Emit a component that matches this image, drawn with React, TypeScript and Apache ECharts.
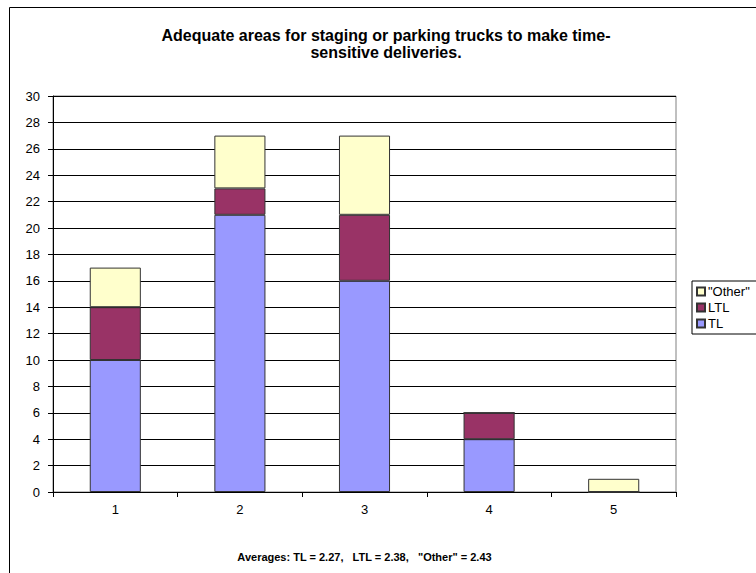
import React, { useEffect, useRef } from "react";
import * as echarts from "echarts";

const categories = ["1", "2", "3", "4", "5"];
const tlValues = [10, 21, 16, 4, 0];
const ltlValues = [4, 2, 5, 2, 0];
const otherValues = [3, 4, 6, 0, 1];
const titleText = "Adequate areas for staging or parking trucks to make time-\nsensitive deliveries.";
const xAxisName = 'Averages: TL = 2.27,   LTL = 2.38,   "Other" = 2.43';

const FONT = "'Liberation Sans', Arial, sans-serif";

export default function App() {
  const ref = useRef<HTMLDivElement>(null);
  useEffect(() => {
    if (!ref.current) return;
    const chart = echarts.init(ref.current, null, { renderer: "svg" });
    const barBase = {
      type: "bar" as const,
      stack: "total",
      barWidth: "41%",
      itemStyle: { borderColor: "#333333", borderWidth: 1 },
    };
    chart.setOption({
      animation: false,
      backgroundColor: "#ffffff",
      textStyle: { fontFamily: FONT },
      title: {
        text: titleText,
        left: 381,
        textAlign: "center",
        top: 22,
        textStyle: { fontSize: 16, fontWeight: "bold", color: "#000", lineHeight: 17, fontFamily: FONT },
      },
      grid: {
        left: 53,
        right: 80,
        top: 96,
        bottom: 81,
        show: true,
        borderColor: "#808080",
        borderWidth: 1,
        backgroundColor: "#ffffff",
      },
      legend: {
        orient: "vertical",
        left: 692,
        top: 281,
        data: ['"Other"', "LTL", "TL"],
        itemWidth: 8,
        itemHeight: 8,
        itemGap: 3,
        borderColor: "#000",
        borderWidth: 1,
        borderRadius: 0,
        padding: [4, 10, 4, 4],
        textStyle: { fontSize: 13, color: "#000", fontFamily: FONT, padding: [0, 0, 0, -2] },
        icon: "rect",
      },
      xAxis: {
        type: "category",
        data: categories,
        name: xAxisName,
        nameLocation: "middle",
        nameGap: 59,
        nameTextStyle: { fontSize: 11, fontWeight: "bold", color: "#000", fontFamily: FONT },
        axisLine: { lineStyle: { color: "#000", width: 1 } },
        axisTick: { show: true, alignWithLabel: false, length: 5, lineStyle: { color: "#000" } },
        axisLabel: { fontSize: 13, color: "#000", margin: 11, fontFamily: FONT },
        splitLine: { show: false },
      },
      yAxis: {
        type: "value",
        min: 0,
        max: 30,
        interval: 2,
        axisLine: { show: true, lineStyle: { color: "#000", width: 1 } },
        axisTick: { show: true, length: 5, lineStyle: { color: "#000" } },
        axisLabel: { fontSize: 13, color: "#000", margin: 13, fontFamily: FONT },
        splitLine: { show: true, lineStyle: { color: "#000", width: 1 } },
      },
      series: [
        { ...barBase, name: "TL", data: tlValues, itemStyle: { ...barBase.itemStyle, color: "#9999FF" } },
        { ...barBase, name: "LTL", data: ltlValues, itemStyle: { ...barBase.itemStyle, color: "#993366" } },
        { ...barBase, name: '"Other"', data: otherValues, itemStyle: { ...barBase.itemStyle, color: "#FFFFCC" } },
      ],
      graphic: [
        {
          type: "rect",
          silent: true,
          shape: { x: 9.5, y: 7.5, width: 760, height: 580 },
          style: { fill: "none", stroke: "#000", lineWidth: 1 },
          z: -1,
        },
      ],
    });
    return () => chart.dispose();
  }, []);
  return (
    <div
      ref={ref}
      style={{ position: "fixed", left: 0, top: 0, width: 756, height: 573 }}
    />
  );
}
